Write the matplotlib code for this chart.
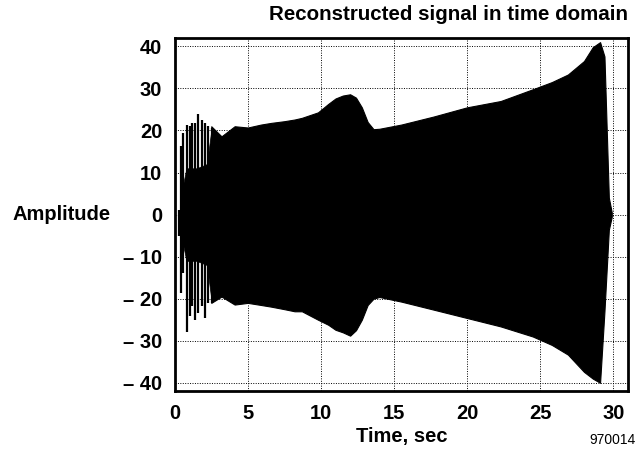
import numpy as np
import matplotlib
matplotlib.use("Agg")
import matplotlib.pyplot as plt

# envelope of the dense part of the signal
env_t = [2.5, 3.2, 4.1, 5.0, 5.9, 6.6, 7.5, 8.2, 8.7, 9.8, 10.5, 11.0, 11.5, 12.0, 12.4,
         12.8, 13.2, 13.6, 14.0, 15.5, 17.7, 20.0, 22.3, 24.5, 25.8, 26.9, 28.0, 28.6,
         29.1, 29.4, 29.7, 29.9]
env_hi = [21, 18.6, 21, 20.7, 21.4, 21.8, 22.2, 22.6, 23, 24.3, 26.3, 27.6, 28.3, 28.6, 27.8,
          25.5, 22, 20.3, 20.4, 21.4, 23.3, 25.5, 27, 29.8, 31.5, 33.3, 36.5, 39.8,
          41, 37.6, 4, 0.5]
env_lo = [-21, -19.5, -21.4, -21, -21.5, -21.9, -22.5, -23, -23, -25, -26.2, -27.4, -28, -28.8, -27.5,
          -25, -21.5, -20, -19.6, -20.7, -22.6, -24.6, -26.6, -29, -31, -33.3, -37.4, -39,
          -40, -23, -3.6, -0.5]

# separate spikes at the start
spike_t = [0.29, 0.43, 0.59, 0.82, 1.04, 1.2, 1.39, 1.61, 1.84, 2.07, 2.3, 2.52]
spike_hi = [1.2, 16.3, 19.5, 21.4, 21, 21.8, 21.8, 23.8, 22.6, 21.8, 21, 20.6]
spike_lo = [-5.2, -18.6, -13.8, -28, -24.2, -21.8, -25, -23.4, -21.8, -24.6, -21, -21]

# inner core of the start region
core_t = [0.5, 0.8, 1.5, 2.2, 2.5]
core_hi = [6, 11, 11, 12, 20]
core_lo = [-6, -11, -11, -12, -20]

xticks = [0, 5, 10, 15, 20, 25, 30]
yticks = [-40, -30, -20, -10, 0, 10, 20, 30, 40]
ytick_labels = ['\u2013 40', '\u2013 30', '\u2013 20', '\u2013 10', '0', '10', '20', '30', '40']

plt.rcParams['font.family'] = ['Liberation Sans', 'DejaVu Sans']

fig = plt.figure(figsize=(6.4, 4.57), dpi=100)
ax = fig.add_axes([0.273, 0.144, 0.708, 0.773])

ax.fill_between(env_t, env_lo, env_hi, color='black', linewidth=0.8, zorder=3)
ax.fill_between(core_t, core_lo, core_hi, color='black', linewidth=0.5, zorder=3)
ax.vlines(spike_t, spike_lo, spike_hi, color='black', linewidth=1.6, zorder=3)

ax.set_xlim(0, 31)
ax.set_ylim(-42, 42)
ax.set_xticks(xticks)
ax.set_xticklabels([str(v) for v in xticks])
ax.set_yticks(yticks)
ax.set_yticklabels(ytick_labels)
ax.tick_params(length=0, pad=9, labelsize=14.5)
for lab in ax.get_xticklabels() + ax.get_yticklabels():
    lab.set_fontweight('bold')

ax.grid(True, color='black', linestyle=(0, (1, 1.5)), linewidth=0.7)
for s in ax.spines.values():
    s.set_linewidth(2)

ax.set_xlabel('Time, sec', fontsize=14.5, fontweight='bold', labelpad=3)
ax.set_ylabel('Amplitude', fontsize=14.5, fontweight='bold', rotation=0,
              ha='center', va='center', labelpad=0)
ax.yaxis.set_label_coords(-0.25, 0.5)
ax.set_title('Reconstructed signal in time domain', fontsize=14.8, fontweight='bold',
             loc='right', pad=13)

fig.text(0.993, 0.022, '970014', fontsize=10, ha='right', va='bottom')

fig.savefig('out.png', dpi=100)
